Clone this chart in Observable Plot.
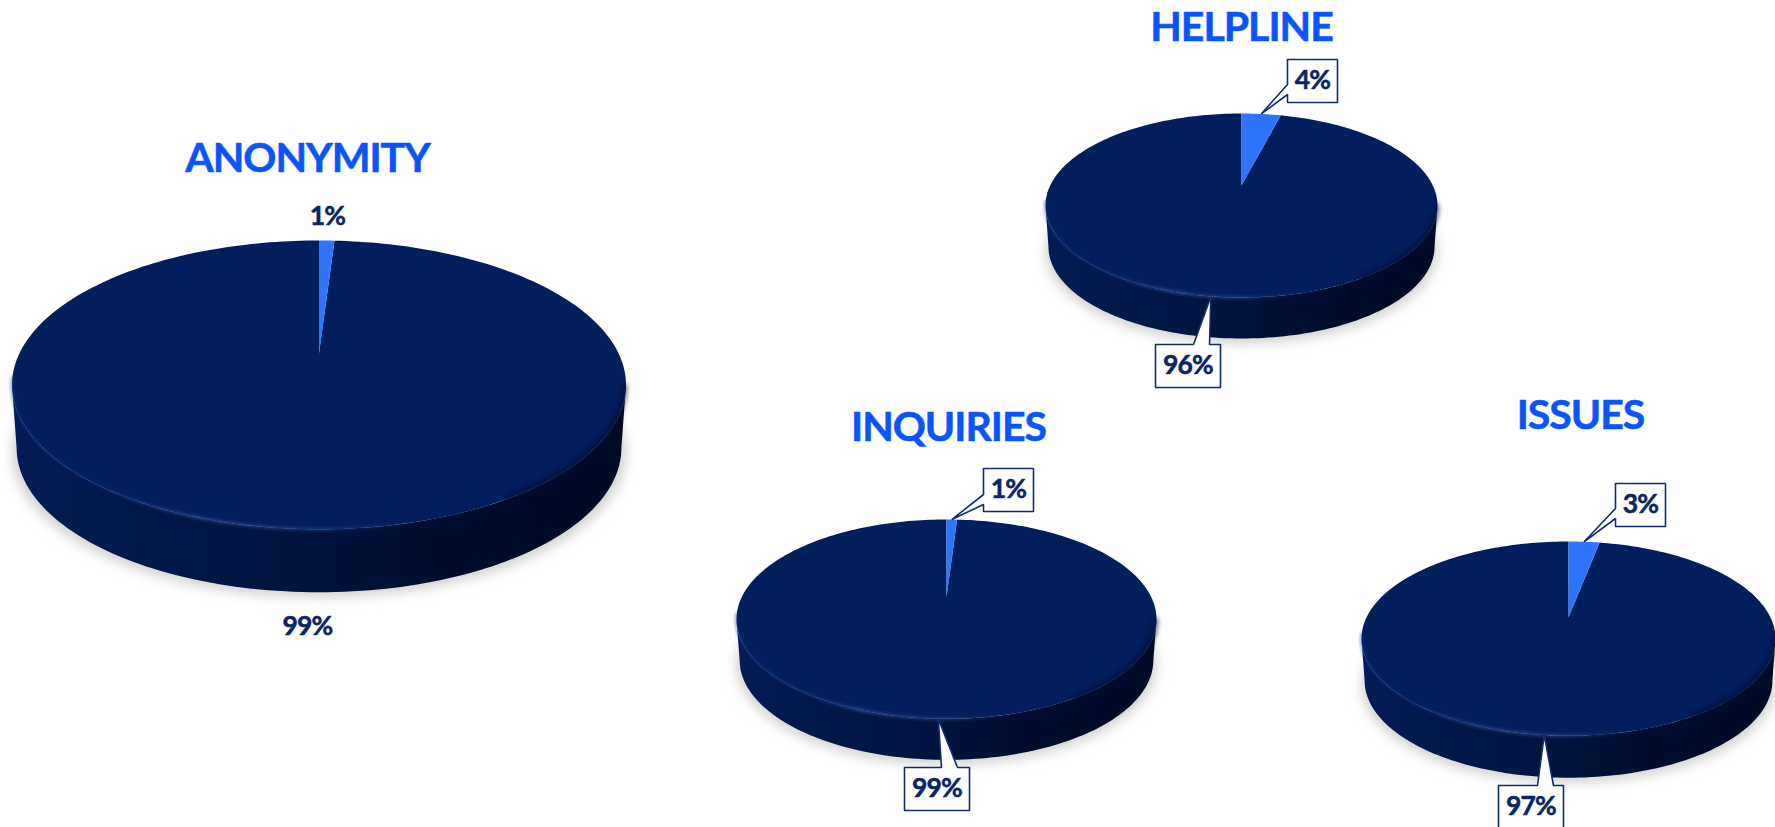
<!DOCTYPE html>
<html>
<head>
<meta charset="utf-8">
<script src="https://cdn.jsdelivr.net/npm/d3@7"></script>
<script src="https://cdn.jsdelivr.net/npm/@observablehq/plot@0.6"></script>
<style>
  html, body { margin: 0; padding: 0; background: #fff; overflow: hidden; }
  svg { display: block; }
  .ttl text { letter-spacing: -1px; }
  .lbl text { letter-spacing: -0.8px; }
</style>
</head>
<body>
<script>
// ---- values ----
const names = ["ANONYMITY", "HELPLINE", "INQUIRIES", "ISSUES"];
const minorShare = [1, 4, 1, 3];
const majorShare = [99, 96, 99, 97];

// ---- layout of each 3D pie (pixels, in the x/y scale domain) ----
const layout = [
  {cx: 318.5, rx: 307, apexY: 353, topY: 240, depth: 63, titleX: 307, titleY: 158},
  {cx: 1241,  rx: 196, apexY: 185, topY: 113, depth: 41, titleX: 1241, titleY: 27},
  {cx: 946,   rx: 210, apexY: 597, topY: 519, depth: 41, titleX: 948, titleY: 427},
  {cx: 1568,  rx: 207, apexY: 617, topY: 541, depth: 42, titleX: 1580, titleY: 415}
];
const labelPlacement = [
  {minor: {plain: [327, 216]}, major: {plain: [307, 626]}},
  {minor: {box: [1287, 59], baseLeft: [25, 35]}, major: {box: [1155, 344], baseTop: [38, 54]}},
  {minor: {box: [983, 468], baseLeft: [26, 36]}, major: {box: [904, 767], baseTop: [37, 53]}},
  {minor: {box: [1615, 483], baseLeft: [25, 35]}, major: {box: [1498, 785], baseTop: [39, 55]}}
];
const boxW = {minor: 50, major: 65};
const boxH = 43;

// ---- perspective projection of the pie disc ----
const persp = 4.6;
const widest = Math.sqrt(1 - 1 / (persp * persp)) / (persp - 1 / persp);
const edgeTheta = Math.acos(-1 / persp);
function project(p, theta, r = 1, drop = 0, shrink = 1) {
  const w = persp + r * Math.cos(theta);
  return {
    x: p.cx + (p.rx / widest) * r * Math.sin(theta) / w * shrink,
    y: p.apexY - (p.apexY - p.topY) * (persp + 1) * r * Math.cos(theta) / w + drop
  };
}
const arc = (a, b, n, f) => d3.range(n + 1).map(i => f(a + (b - a) * i / n));

const rows = names.map((name, i) => {
  const p = layout[i];
  const cut = minorShare[i] / (minorShare[i] + majorShare[i]) * 2 * Math.PI;
  const wedge = (a, b) => [
    {x: p.cx, y: p.apexY},
    ...arc(a, b, Math.max(4, Math.ceil((b - a) * 40)), t => project(p, t))
  ];
  const lower = arc(edgeTheta, 2 * Math.PI - edgeTheta, 120, t => project(p, t));
  const lowerDrop = arc(2 * Math.PI - edgeTheta, edgeTheta, 120, t => project(p, t, 1, p.depth, 0.985));
  return {
    name, p, cut,
    minor: wedge(0, cut),
    major: wedge(cut, 2 * Math.PI),
    side: [...lower, ...lowerDrop],
    shadow: arc(0, 2 * Math.PI, 200, t => project(p, t, 1, p.depth + 5, 1.0)),
    rim: arc(edgeTheta - 0.05, 2 * Math.PI - edgeTheta + 0.05, 120, t => project(p, t, 1)),
    rimDark: arc(1.8, 2.6, 60, t => project(p, t, 0.995))
  };
});

// callout polygons: box corners plus a pointer whose tip sits on the slice's mid-angle
const calloutRows = [];
const labelRows = [];
names.forEach((name, i) => {
  const r = rows[i], p = r.p;
  [["minor", minorShare[i], r.cut / 2], ["major", majorShare[i], (r.cut + 2 * Math.PI) / 2]].forEach(([k, v, mid]) => {
    const place = labelPlacement[i][k];
    const text = v + "%";
    if (place.plain) {
      labelRows.push({text, x: place.plain[0], y: place.plain[1]});
      return;
    }
    const [x0, y0] = place.box, w = boxW[k], h = boxH, tip = project(p, mid);
    const poly = place.baseLeft
      ? [[x0, y0], [x0 + w, y0], [x0 + w, y0 + h], [x0, y0 + h], [x0, y0 + place.baseLeft[1]], [tip.x, tip.y], [x0, y0 + place.baseLeft[0]], [x0, y0]]
      : [[x0, y0], [x0 + place.baseTop[0], y0], [tip.x, tip.y], [x0 + place.baseTop[1], y0], [x0 + w, y0], [x0 + w, y0 + h], [x0, y0 + h], [x0, y0]];
    poly.forEach(([x, y]) => calloutRows.push({key: name + k, x, y}));
    labelRows.push({text, x: x0 + w / 2, y: y0 + h / 2});
  });
});

const flat = key => rows.flatMap(r => r[key].map(d => ({name: r.name, x: d.x, y: d.y})));
const area = (key, opts) => Plot.line(flat(key), {x: "x", y: "y", z: "name", curve: "linear", stroke: "none", ...opts});

const defs = () => {
  const d = d3.create("svg:defs");
  const grad = (id, stops) => {
    const g = d.append("linearGradient").attr("id", id).attr("x1", 0).attr("x2", 1).attr("y1", 0).attr("y2", 0);
    stops.forEach(([o, c, a = 1]) => g.append("stop").attr("offset", o).attr("stop-color", c).attr("stop-opacity", a));
  };
  grad("sideFill", [[0, "#021c56"], [0.2, "#011848"], [0.5, "#00133c"], [0.72, "#000c2c"], [1, "#000a24"]]);
  grad("rimGlow", [[0, "#0a3a8c", 0.45], [0.12, "#0a3a8c", 0.35], [0.3, "#2c4f96", 0.75], [0.5, "#2c4f96", 0.55], [0.66, "#0d2f72", 0.2], [0.78, "#00205f", 0], [1, "#00205f", 0]]);
  return d.node();
};

const font = "Lato, Carlito, Calibri, sans-serif";
const chart = Plot.plot({
  width: 1775,
  height: 827,
  margin: 0,
  x: {domain: [0, 1775], range: [0, 1775], axis: null},
  y: {domain: [0, 827], range: [0, 827], axis: null},
  marks: [
    defs,
    area("shadow", {fill: "#d2d2d2", imageFilter: "blur(6px)"}),
    area("side", {fill: "url(#sideFill)"}),
    area("major", {fill: "#001f5c", imageFilter: "blur(0.5px)"}),
    area("minor", {fill: "#2f75fb", imageFilter: "blur(0.4px)"}),
    Plot.line(flat("rimDark"), {x: "x", y: "y", z: "name", stroke: "#000e34", strokeWidth: 5, strokeOpacity: 0.75, imageFilter: "blur(2.5px)"}),
    Plot.line(flat("rim"), {x: "x", y: "y", z: "name", stroke: "url(#rimGlow)", strokeWidth: 3, imageFilter: "blur(1.8px)"}),
    Plot.line(calloutRows, {x: "x", y: "y", z: "key", fill: "#fff", stroke: "#0f2c6e", strokeWidth: 1.6, strokeLinejoin: "miter"}),
    Plot.text(labelRows, {x: "x", y: "y", text: "text", fill: "#0b2463", stroke: "#0b2463", strokeWidth: 0.5, fontSize: 26.5, fontWeight: 700, fontFamily: font, className: "lbl"}),
    Plot.text(rows.map(r => ({name: r.name, x: r.p.titleX, y: r.p.titleY})), {x: "x", y: "y", text: "name", fill: "#0a55fb", stroke: "#0a55fb", strokeWidth: 0.6, fontSize: 41, fontWeight: 700, fontFamily: font, className: "ttl"})
  ]
});
document.body.appendChild(chart);
</script>
</body>
</html>
